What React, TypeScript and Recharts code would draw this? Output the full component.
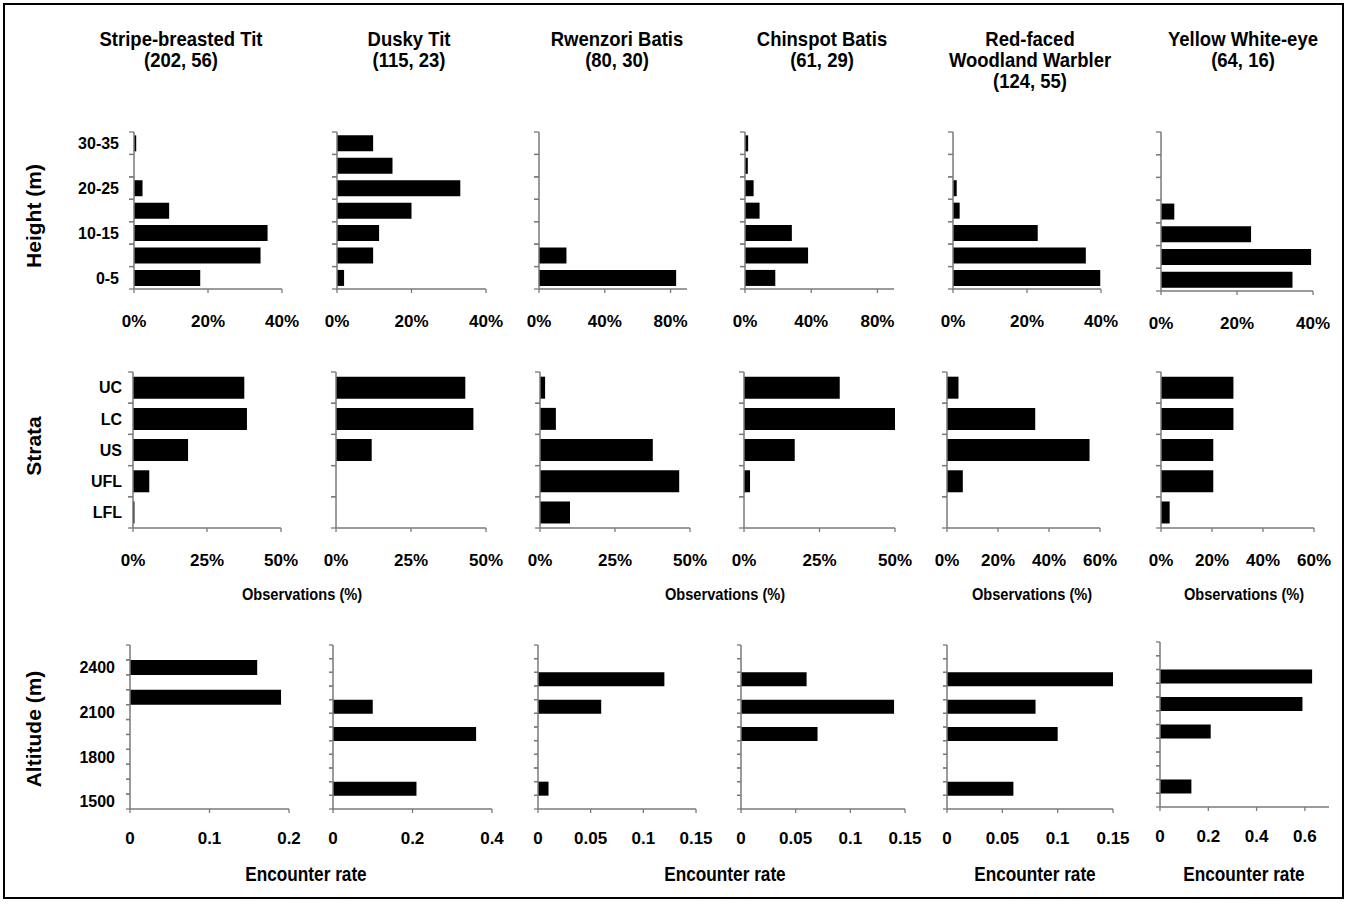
import React from "react";
import { BarChart, Bar, XAxis, YAxis } from "recharts";

// column headers
const speciesNames = [
  ["Stripe-breasted Tit"],
  ["Dusky Tit"],
  ["Rwenzori Batis"],
  ["Chinspot Batis"],
  ["Red-faced", "Woodland Warbler"],
  ["Yellow White-eye"],
];
const sampleSizes = ["(202, 56)", "(115, 23)", "(80, 30)", "(61, 29)", "(124, 55)", "(64, 16)"];

// row 1: height above ground (% of observations)
const heightBands = ["0-5", "5-10", "10-15", "15-20", "20-25", "25-30", "30-35"];
const heightLabels = ["0-5", "10-15", "20-25", "30-35"];
const heightStripe = [17.9, 34.2, 36.1, 9.5, 2.3, 0, 0.6];
const heightDusky = [1.9, 9.7, 11.3, 20.0, 33.1, 14.9, 9.7];
const heightRwenzori = [83.4, 16.7, 0, 0, 0, 0, 0];
const heightChinspot = [18.3, 38.1, 28.3, 8.8, 5.2, 1.7, 1.9];
const heightRedfaced = [39.8, 35.9, 22.9, 1.8, 1.0, 0, 0];
const heightYellow = [34.6, 39.5, 23.7, 3.5, 0, 0, 0];

// row 2: forest strata (% of observations)
const strataBands = ["LFL", "UFL", "US", "LC", "UC"];
const strataStripe = [0.5, 5.5, 18.6, 38.5, 37.6];
const strataDusky = [0, 0, 11.9, 45.8, 43.1];
const strataRwenzori = [10.0, 46.4, 37.6, 5.3, 1.7];
const strataChinspot = [0, 2.0, 16.8, 50.0, 31.7];
const strataRedfaced = [0, 6.2, 55.9, 34.6, 4.5];
const strataYellow = [3.4, 20.5, 20.5, 28.4, 28.4];

// row 3: altitude (encounter rate)
const altBandsShort = ["1500", "1600", "1700", "1800", "1900", "2000", "2100", "2200", "2300", "2400", "2500"];
const altBandsLong = ["1500", "1600", "1700", "1800", "1900", "2000", "2100", "2200", "2300", "2400", "2500", "2600"];
const altLabels = ["1500", "1800", "2100", "2400"];
const altStripe = [0, 0, 0, 0, 0, 0, 0, 0.19, 0, 0.16, 0];
const altDusky = [0, 0.21, 0, 0, 0, 0.36, 0, 0.10, 0, 0, 0, 0];
const altRwenzori = [0, 0.01, 0, 0, 0, 0, 0, 0.06, 0, 0.12, 0, 0];
const altChinspot = [0, 0, 0, 0, 0, 0.07, 0, 0.14, 0, 0.06, 0, 0];
const altRedfaced = [0, 0.06, 0, 0, 0, 0.10, 0, 0.08, 0, 0.15, 0, 0];
const altYellow = [0, 0.13, 0, 0, 0, 0.21, 0, 0.59, 0, 0.63, 0, 0];

const FONT = "'Liberation Sans', Arial, sans-serif";
const AXIS = "#7a7a7a";
const YW = 80;
const MT = 6;
const MR = 24;
const XH = 46;

const pct = (v: number) => `${v}%`;
const num = (v: number) => String(v);

type PanelDef = {
  cats: string[];
  values: number[];
  left: number;
  right: number;
  top: number;
  bottom: number;
  domain: [number, number];
  ticks: number[];
  fmt: (v: number) => string;
  labels?: string[];
  labelGap: number;
  tickLen: number;
  gap: string;
  margin: number;
};

function Panel({ p }: { p: PanelDef }) {
  const plotW = p.right - p.left;
  const plotH = p.bottom - p.top;
  const band = plotH / p.cats.length;
  const data = p.cats.map((c, i) => ({ cat: c, v: p.values[i] }));

  const catTick = (props: any) => {
    const { y, payload } = props;
    const show = p.labels && p.labels.includes(payload.value);
    return (
      <g>
        <line x1={YW - p.tickLen} x2={YW} y1={y - band / 2} y2={y - band / 2} stroke={AXIS} strokeWidth={1.3} />
        <line x1={YW - p.tickLen} x2={YW} y1={y + band / 2} y2={y + band / 2} stroke={AXIS} strokeWidth={1.3} />
        {show && (
          <text x={YW - p.labelGap} y={y} dy="0.36em" textAnchor="end" fontSize={16} fontWeight={700} fontFamily={FONT} fill="#000">
            {payload.value}
          </text>
        )}
      </g>
    );
  };

  return (
    <div style={{ position: "absolute", left: p.left - YW, top: p.top - MT }}>
      <BarChart
        width={YW + plotW + MR}
        height={MT + plotH + XH}
        data={data}
        layout="vertical"
        margin={{ top: MT, right: MR, bottom: 0, left: 0 }}
        barCategoryGap={p.gap}
      >
        <XAxis
          type="number"
          domain={p.domain}
          ticks={p.ticks}
          interval={0}
          tickFormatter={p.fmt}
          height={XH}
          axisLine={{ stroke: AXIS, strokeWidth: 1.5 }}
          tickLine={{ stroke: AXIS, strokeWidth: 1.3 }}
          tickSize={4}
          tickMargin={p.margin}
          tick={{ fontSize: 17, fontWeight: 700, fill: "#000", fontFamily: FONT }}
        />
        <YAxis
          type="category"
          dataKey="cat"
          reversed
          width={YW}
          interval={0}
          axisLine={{ stroke: AXIS, strokeWidth: 1.5 }}
          tickLine={false}
          tick={catTick}
        />
        <Bar dataKey="v" fill="#000" isAnimationActive={false} />
      </BarChart>
    </div>
  );
}

const hRow = (values: number[], left: number, right: number, max: number, ticks: number[], labels?: string[], bottom = 289): PanelDef => ({
  cats: heightBands, values, left, right, top: 132, bottom, domain: [0, max], ticks, fmt: pct, labels, labelGap: 15, tickLen: 5, gap: "15%", margin: 22,
});
const sRow = (values: number[], left: number, right: number, max: number, ticks: number[], labels?: string[]): PanelDef => ({
  cats: strataBands, values, left, right, top: 372, bottom: 528, domain: [0, max], ticks, fmt: pct, labels, labelGap: 11, tickLen: 5, gap: "15%", margin: 22,
});
const aRow = (cats: string[], values: number[], left: number, right: number, max: number, ticks: number[], labels?: string[], top = 645, bottom = 809): PanelDef => ({
  cats, values, left, right, top, bottom, domain: [0, max], ticks, fmt: num, labels, labelGap: 15, tickLen: 4, gap: "0%", margin: 19,
});

const panels: PanelDef[] = [
  hRow(heightStripe, 134, 282, 40, [0, 20, 40], heightLabels),
  hRow(heightDusky, 337, 486, 40, [0, 20, 40]),
  hRow(heightRwenzori, 539, 687, 90, [0, 40, 80]),
  hRow(heightChinspot, 745, 894, 90, [0, 40, 80]),
  hRow(heightRedfaced, 953, 1101, 40, [0, 20, 40]),
  hRow(heightYellow, 1161, 1313, 40, [0, 20, 40], undefined, 291),

  sRow(strataStripe, 133, 281, 50, [0, 25, 50], strataBands),
  sRow(strataDusky, 336, 486, 50, [0, 25, 50]),
  sRow(strataRwenzori, 540, 690, 50, [0, 25, 50]),
  sRow(strataChinspot, 744, 895, 50, [0, 25, 50]),
  sRow(strataRedfaced, 947, 1100, 60, [0, 20, 40, 60]),
  sRow(strataYellow, 1161, 1314, 60, [0, 20, 40, 60]),

  aRow(altBandsShort, altStripe, 130, 289, 0.2, [0, 0.1, 0.2], altLabels),
  aRow(altBandsLong, altDusky, 333, 492, 0.4, [0, 0.2, 0.4]),
  aRow(altBandsLong, altRwenzori, 538, 696, 0.15, [0, 0.05, 0.1, 0.15]),
  aRow(altBandsLong, altChinspot, 741, 905, 0.15, [0, 0.05, 0.1, 0.15]),
  aRow(altBandsLong, altRedfaced, 947, 1113, 0.15, [0, 0.05, 0.1, 0.15]),
  aRow(altBandsLong, altYellow, 1160, 1329, 0.7, [0, 0.2, 0.4, 0.6], undefined, 642, 807),
];

const headerX = [181, 409, 617, 822, 1030, 1243];
const obsX = [302, 725, 1032, 1244];
const encX = [306, 725, 1035, 1244];

const narrow: React.CSSProperties = {
  position: "absolute",
  fontFamily: FONT,
  fontWeight: 700,
  color: "#000",
  whiteSpace: "nowrap",
  textAlign: "center",
};

function Narrow({ x, y, size, lines, sx = 0.86 }: { x: number; y: number; size: number; lines: string[]; sx?: number }) {
  return (
    <div
      style={{
        ...narrow,
        left: x - 150,
        top: y,
        width: 300,
        fontSize: size,
        lineHeight: "21px",
        transform: `scaleX(${sx})`,
      }}
    >
      {lines.map((l, i) => (
        <div key={i}>{l}</div>
      ))}
    </div>
  );
}

function RotTitle({ x, y, text }: { x: number; y: number; text: string }) {
  return (
    <div
      style={{
        position: "absolute",
        left: x,
        top: y,
        transform: "translate(-50%, -50%) rotate(-90deg)",
        fontFamily: FONT,
        fontWeight: 700,
        fontSize: 21,
        whiteSpace: "nowrap",
        color: "#000",
      }}
    >
      {text}
    </div>
  );
}

export default function App() {
  return (
    <div style={{ position: "absolute", left: 0, top: 0, width: 1348, height: 906, background: "#fff", overflow: "hidden" }}>
      <div style={{ position: "absolute", left: 3, top: 3, width: 1341, height: 896, border: "2px solid #000", boxSizing: "border-box" }} />
      {speciesNames.map((lines, i) => (
        <Narrow key={i} x={headerX[i]} y={28} size={21} sx={0.88} lines={[...lines, sampleSizes[i]]} />
      ))}
      <RotTitle x={34} y={216} text="Height (m)" />
      <RotTitle x={34} y={446} text="Strata" />
      <RotTitle x={34} y={729} text="Altitude (m)" />
      {panels.map((p, i) => (
        <Panel key={i} p={p} />
      ))}
      {obsX.map((x, i) => (
        <Narrow key={"o" + i} x={x} y={584} size={17} lines={["Observations (%)"]} />
      ))}
      {encX.map((x, i) => (
        <Narrow key={"e" + i} x={x} y={864} size={20} lines={["Encounter rate"]} />
      ))}
    </div>
  );
}
